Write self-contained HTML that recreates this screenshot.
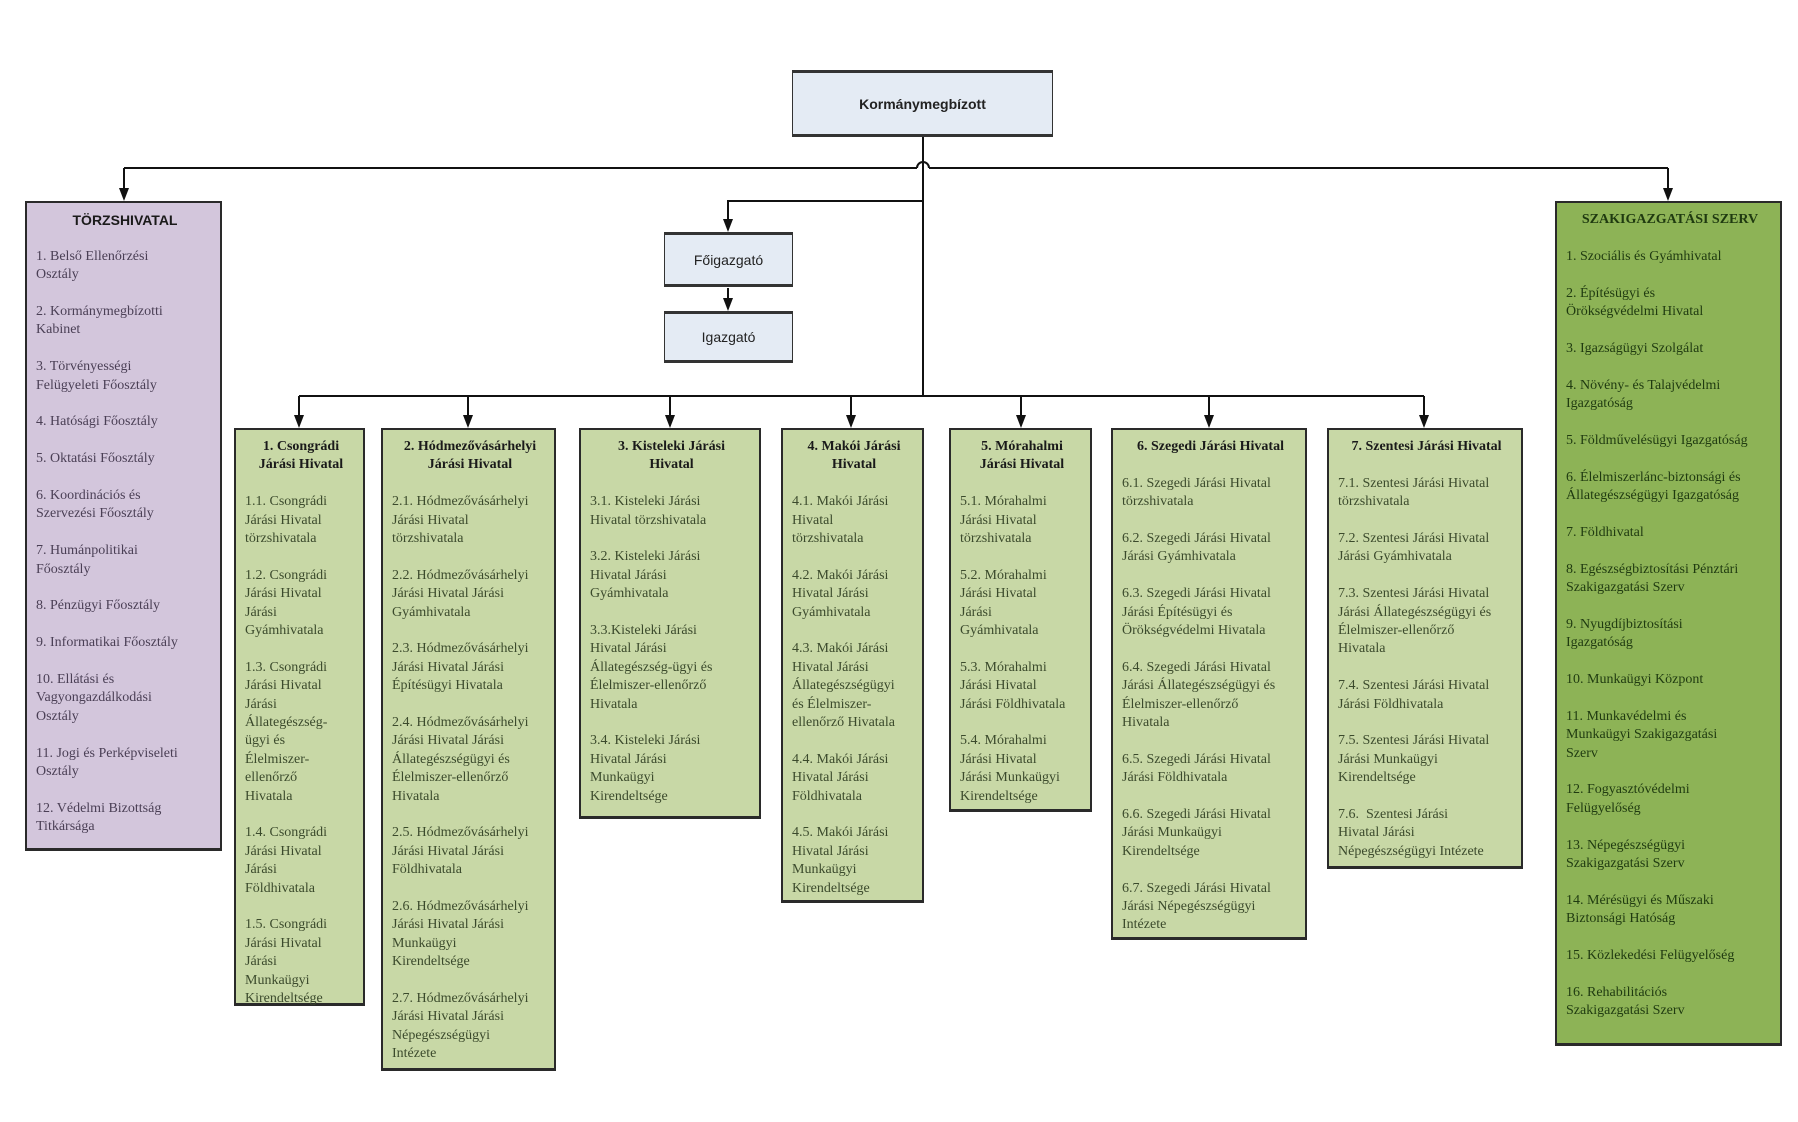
<!DOCTYPE html>
<html><head><meta charset="utf-8">
<style>
body{margin:0;width:1798px;height:1122px;background:#fff;position:relative;overflow:hidden;font-family:"Liberation Serif",serif;}
.b{position:absolute;box-sizing:border-box;border:2px solid #2a2a2a;border-bottom-width:3px;padding:8px 6px 0 9px;font-size:14px;line-height:18.4px;}
.b p{margin:0 0 18.4px 0;}
.b h{display:block;font-weight:bold;text-align:center;margin-bottom:18.4px;color:#1a1a1a;}
.g{background:#c8d8a6;color:#3b4a2c;}
.p{background:#d3c6dc;color:#4a3f55;}
.r{background:#8db356;color:#1f3a10;}
.s{position:absolute;box-sizing:border-box;background:#e4ebf4;border:1px solid #333;border-top-width:3px;border-bottom-width:3px;font-family:"Liberation Sans",sans-serif;font-size:14px;display:flex;align-items:center;justify-content:center;color:#222;}
svg{position:absolute;left:0;top:0;}
</style></head><body>
<svg width="1798" height="1122">
<g stroke="#111" stroke-width="2" fill="none">
<path d="M923,137 V396"/>
<path d="M124,168 H917 M929,168 H1668"/>
<path d="M917,168 A6,6 0 0 1 929,168"/>
<path d="M124,168 V190"/>
<path d="M1668,168 V190"/>
<path d="M923,201 H728 V222"/>
<path d="M728,288 V300"/>
<path d="M299,396 H1424"/>
<path d="M299,396 V418 M468,396 V418 M670,396 V418 M851,396 V418 M1021,396 V418 M1209,396 V418 M1424,396 V418"/>
</g>
<g fill="#111">
<polygon points="119,188 129,188 124,201"/>
<polygon points="1663,188 1673,188 1668,201"/>
<polygon points="723,219 733,219 728,232"/>
<polygon points="723,298 733,298 728,311"/>
<polygon points="294,415 304,415 299,428"/>
<polygon points="463,415 473,415 468,428"/>
<polygon points="665,415 675,415 670,428"/>
<polygon points="846,415 856,415 851,428"/>
<polygon points="1016,415 1026,415 1021,428"/>
<polygon points="1204,415 1214,415 1209,428"/>
<polygon points="1419,415 1429,415 1424,428"/>
</g></svg>

<div class="s" style="left:792px;top:70px;width:261px;height:67px;font-weight:bold;">Kormánymegbízott</div>
<div class="s" style="left:664px;top:232px;width:129px;height:55px;">Főigazgató</div>
<div class="s" style="left:664px;top:311px;width:129px;height:52px;">Igazgató</div>

<div class="b p" style="left:25px;top:201px;width:197px;height:650px;">
<h style="font-family:'Liberation Sans',sans-serif;">TÖRZSHIVATAL</h>
<p>1. Belső Ellenőrzési<br>Osztály</p>
<p>2. Kormánymegbízotti<br>Kabinet</p>
<p>3. Törvényességi<br>Felügyeleti Főosztály</p>
<p>4. Hatósági Főosztály</p>
<p>5. Oktatási Főosztály</p>
<p>6. Koordinációs és<br>Szervezési Főosztály</p>
<p>7. Humánpolitikai<br>Főosztály</p>
<p>8. Pénzügyi Főosztály</p>
<p>9. Informatikai Főosztály</p>
<p>10. Ellátási és<br>Vagyongazdálkodási<br>Osztály</p>
<p>11. Jogi és Perképviseleti<br>Osztály</p>
<p>12. Védelmi Bizottság<br>Titkársága</p>
</div>

<div class="b r" style="left:1555px;top:201px;width:227px;height:845px;">
<h style="color:#1f3a10;">SZAKIGAZGATÁSI SZERV</h>
<p>1. Szociális és Gyámhivatal</p>
<p>2. Építésügyi és<br>Örökségvédelmi Hivatal</p>
<p>3. Igazságügyi Szolgálat</p>
<p>4. Növény- és Talajvédelmi<br>Igazgatóság</p>
<p>5. Földművelésügyi Igazgatóság</p>
<p>6. Élelmiszerlánc-biztonsági és<br>Állategészségügyi Igazgatóság</p>
<p>7. Földhivatal</p>
<p>8. Egészségbiztosítási Pénztári<br>Szakigazgatási Szerv</p>
<p>9. Nyugdíjbiztosítási<br>Igazgatóság</p>
<p>10. Munkaügyi Központ</p>
<p>11. Munkavédelmi és<br>Munkaügyi Szakigazgatási<br>Szerv</p>
<p>12. Fogyasztóvédelmi<br>Felügyelőség</p>
<p>13. Népegészségügyi<br>Szakigazgatási Szerv</p>
<p>14. Mérésügyi és Műszaki<br>Biztonsági Hatóság</p>
<p>15. Közlekedési Felügyelőség</p>
<p>16. Rehabilitációs<br>Szakigazgatási Szerv</p>
</div>

<div class="b g" style="left:234px;top:428px;width:131px;height:578px;">
<h>1. Csongrádi<br>Járási Hivatal</h>
<p>1.1. Csongrádi<br>Járási Hivatal<br>törzshivatala</p>
<p>1.2. Csongrádi<br>Járási Hivatal<br>Járási<br>Gyámhivatala</p>
<p>1.3. Csongrádi<br>Járási Hivatal<br>Járási<br>Állategészség-<br>ügyi és<br>Élelmiszer-<br>ellenőrző<br>Hivatala</p>
<p>1.4. Csongrádi<br>Járási Hivatal<br>Járási<br>Földhivatala</p>
<p>1.5. Csongrádi<br>Járási Hivatal<br>Járási<br>Munkaügyi<br>Kirendeltsége</p>
</div>

<div class="b g" style="left:381px;top:428px;width:175px;height:643px;">
<h>2. Hódmezővásárhelyi<br>Járási Hivatal</h>
<p>2.1. Hódmezővásárhelyi<br>Járási Hivatal<br>törzshivatala</p>
<p>2.2. Hódmezővásárhelyi<br>Járási Hivatal Járási<br>Gyámhivatala</p>
<p>2.3. Hódmezővásárhelyi<br>Járási Hivatal Járási<br>Építésügyi Hivatala</p>
<p>2.4. Hódmezővásárhelyi<br>Járási Hivatal Járási<br>Állategészségügyi és<br>Élelmiszer-ellenőrző<br>Hivatala</p>
<p>2.5. Hódmezővásárhelyi<br>Járási Hivatal Járási<br>Földhivatala</p>
<p>2.6. Hódmezővásárhelyi<br>Járási Hivatal Járási<br>Munkaügyi<br>Kirendeltsége</p>
<p>2.7. Hódmezővásárhelyi<br>Járási Hivatal Járási<br>Népegészségügyi<br>Intézete</p>
</div>

<div class="b g" style="left:579px;top:428px;width:182px;height:391px;">
<h>3. Kisteleki Járási<br>Hivatal</h>
<p>3.1. Kisteleki Járási<br>Hivatal törzshivatala</p>
<p>3.2. Kisteleki Járási<br>Hivatal Járási<br>Gyámhivatala</p>
<p>3.3.Kisteleki Járási<br>Hivatal Járási<br>Állategészség-ügyi és<br>Élelmiszer-ellenőrző<br>Hivatala</p>
<p>3.4. Kisteleki Járási<br>Hivatal Járási<br>Munkaügyi<br>Kirendeltsége</p>
</div>

<div class="b g" style="left:781px;top:428px;width:143px;height:475px;">
<h>4. Makói Járási<br>Hivatal</h>
<p>4.1. Makói Járási<br>Hivatal<br>törzshivatala</p>
<p>4.2. Makói Járási<br>Hivatal Járási<br>Gyámhivatala</p>
<p>4.3. Makói Járási<br>Hivatal Járási<br>Állategészségügyi<br>és Élelmiszer-<br>ellenőrző Hivatala</p>
<p>4.4. Makói Járási<br>Hivatal Járási<br>Földhivatala</p>
<p>4.5. Makói Járási<br>Hivatal Járási<br>Munkaügyi<br>Kirendeltsége</p>
</div>

<div class="b g" style="left:949px;top:428px;width:143px;height:384px;">
<h>5. Mórahalmi<br>Járási Hivatal</h>
<p>5.1. Mórahalmi<br>Járási Hivatal<br>törzshivatala</p>
<p>5.2. Mórahalmi<br>Járási Hivatal<br>Járási<br>Gyámhivatala</p>
<p>5.3. Mórahalmi<br>Járási Hivatal<br>Járási Földhivatala</p>
<p>5.4. Mórahalmi<br>Járási Hivatal<br>Járási Munkaügyi<br>Kirendeltsége</p>
</div>

<div class="b g" style="left:1111px;top:428px;width:196px;height:512px;">
<h>6. Szegedi Járási Hivatal</h>
<p>6.1. Szegedi Járási Hivatal<br>törzshivatala</p>
<p>6.2. Szegedi Járási Hivatal<br>Járási Gyámhivatala</p>
<p>6.3. Szegedi Járási Hivatal<br>Járási Építésügyi és<br>Örökségvédelmi Hivatala</p>
<p>6.4. Szegedi Járási Hivatal<br>Járási Állategészségügyi és<br>Élelmiszer-ellenőrző<br>Hivatala</p>
<p>6.5. Szegedi Járási Hivatal<br>Járási Földhivatala</p>
<p>6.6. Szegedi Járási Hivatal<br>Járási Munkaügyi<br>Kirendeltsége</p>
<p>6.7. Szegedi Járási Hivatal<br>Járási Népegészségügyi<br>Intézete</p>
</div>

<div class="b g" style="left:1327px;top:428px;width:196px;height:441px;">
<h>7. Szentesi Járási Hivatal</h>
<p>7.1. Szentesi Járási Hivatal<br>törzshivatala</p>
<p>7.2. Szentesi Járási Hivatal<br>Járási Gyámhivatala</p>
<p>7.3. Szentesi Járási Hivatal<br>Járási Állategészségügyi és<br>Élelmiszer-ellenőrző<br>Hivatala</p>
<p>7.4. Szentesi Járási Hivatal<br>Járási Földhivatala</p>
<p>7.5. Szentesi Járási Hivatal<br>Járási Munkaügyi<br>Kirendeltsége</p>
<p>7.6.&nbsp; Szentesi Járási<br>Hivatal Járási<br>Népegészségügyi Intézete</p>
</div>
</body></html>
